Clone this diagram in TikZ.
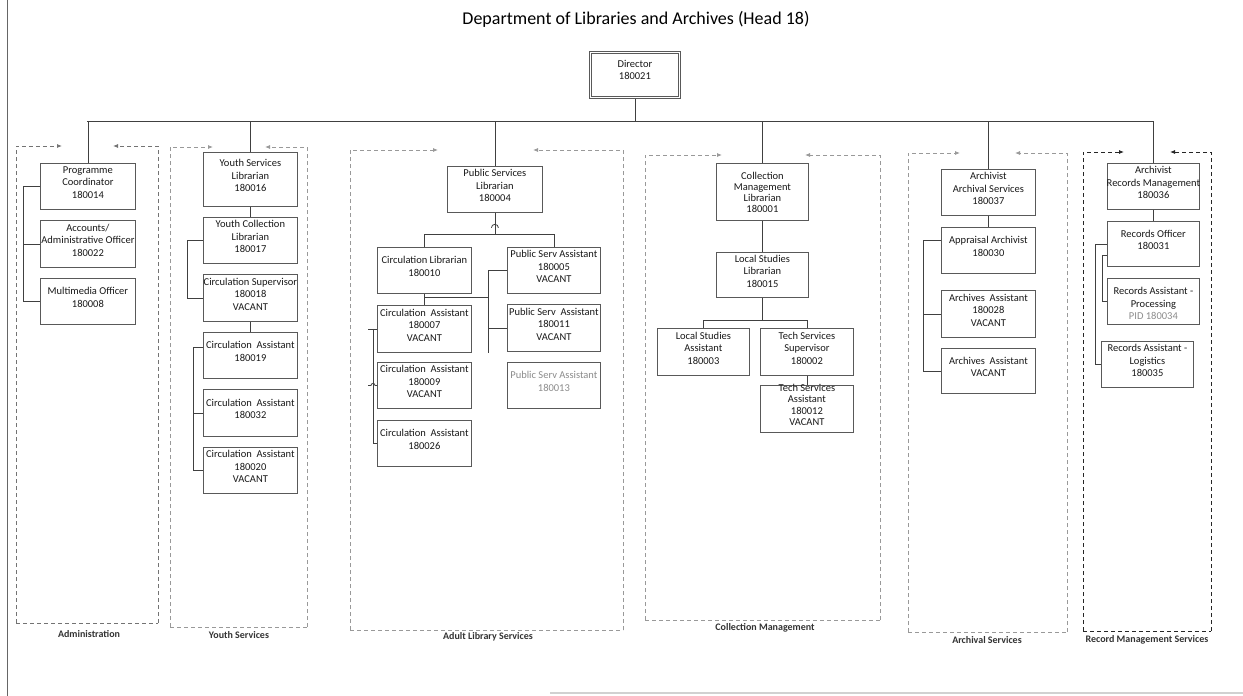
\documentclass[tikz,border=0pt]{standalone}
\usepackage{fontspec}
\setmainfont{Carlito}
\usetikzlibrary{arrows.meta}
\tikzset{
  box/.style={draw=black!65, line width=0.8pt, fill=white, anchor=north west, inner sep=0pt},
  txt/.style={font=\fontsize{10.5}{12.5}\selectfont, align=center, text=black!90, inner sep=0pt, yshift=4pt},
  conn/.style={draw=black!75, line width=0.8pt},
  region/.style={draw=black!40, line width=0.8pt, dash pattern=on 4pt off 3pt},
  regarrow/.style={region, -{Latex[length=5pt,width=4pt]}},
  lab/.style={font=\fontsize{10}{11}\selectfont\bfseries, text=black!80, inner sep=0pt},
}
\newcommand{\obox}[7][]{%
  \node[box,minimum width={#5pt-#3pt},minimum height={#6pt-#4pt}] (#2) at (#3,#4) {};
  \node[txt,#1] (#2t) at (#2.center) {#7};}
\newcommand{\regionbox}[7][]{%
  \draw[region,#1] (#2,#5) -- (#4,#5);
  \draw[regarrow,#1] (#2,#5) -- (#2,#3) -- (#6,#3);
  \draw[regarrow,#1] (#4,#5) -- (#4,#3) -- (#7,#3);}
\begin{document}
\begin{tikzpicture}[x=1pt,y=-1pt]
\useasboundingbox (0,0) rectangle (1243,696);
% frame remnants
\draw[black!60, line width=1pt] (7,0) -- (7,696);
\draw[black!18, line width=1.2pt] (550,693) -- (1243,693);

% title
\node[font=\fontsize{18}{21}\selectfont, text=black, inner sep=0pt] (title) at (636,19) {Department of Libraries and Archives (Head 18)};

% regions
\regionbox[draw=black!55]{16}{146}{158}{623}{62}{113}
\regionbox{170}{147}{307}{627}{213}{265}
\regionbox{350}{150}{623}{630}{438}{533}
\regionbox{645}{155}{880}{620}{722}{805}
\regionbox{908}{153}{1067}{632}{960}{1015}
\regionbox[draw=black!85]{1083}{152}{1211}{631}{1124}{1170}

\node[lab] (l1) at (89,634) {Administration};
\node[lab] (l2) at (239,635) {Youth Services};
\node[lab] (l3) at (488,637) {Adult Library Services};
\node[lab] (l4) at (765,628) {Collection Management};
\node[lab] (l5) at (987,640) {Archival Services};
\node[lab] (l6) at (1147,640) {Record Management Services};

% director (double frame)
\node[box, minimum width=91pt, minimum height=47pt] (dir) at (589,51) {};
\draw[draw=black!65, line width=0.8pt] ([xshift=2.6pt,yshift=-2.6pt]dir.north west) rectangle ([xshift=-2.6pt,yshift=2.6pt]dir.south east);
\node[txt] (dirt) at ([yshift=1pt]dir.center) {Director\\180021};

% administration
\obox{pc}{40}{163}{135}{209}{Programme\\Coordinator\\180014}
\obox{ao}{40}{220}{135}{267}{Accounts/\\Administrative Officer\\180022}
\obox{mm}{40}{278}{135}{324}{Multimedia Officer\\180008}

% youth
\obox{ysl}{203}{152}{297}{206}{Youth Services\\Librarian\\180016}
\obox{ycl}{203}{217}{297}{263}{Youth Collection\\Librarian\\180017}
\obox{csup}{203}{274}{297}{321}{Circulation Supervisor\\180018\\VACANT}
\obox{ca19}{203}{332}{297}{378}{Circulation\ \ Assistant\\180019}
\obox{ca32}{203}{389}{297}{436}{Circulation\ \ Assistant\\180032}
\obox{ca20}{203}{447}{297}{493}{Circulation\ \ Assistant\\180020\\VACANT}

% adult
\obox{psl}{447}{166}{542}{212}{Public Services\\Librarian\\180004}
\obox{cl}{377}{247}{471}{293}{Circulation Librarian\\180010}
\obox{psa5}{507}{247}{600}{293}{Public Serv Assistant\\180005\\VACANT}
\obox{ca7}{377}{305}{471}{352}{Circulation\ \ Assistant\\180007\\VACANT}
\obox{psa11}{507}{304}{600}{351}{Public Serv\ \ Assistant\\180011\\VACANT}
\obox{ca9}{377}{362}{471}{408}{Circulation\ \ Assistant\\180009\\VACANT}
\obox[text=black!45]{psa13}{507}{362}{600}{408}{Public Serv Assistant\\180013}
\obox{ca26}{377}{420}{471}{466}{Circulation\ \ Assistant\\180026}

% collection
\obox[yshift=-4pt,font=\fontsize{10.5}{11}\selectfont]{cml}{716}{163}{808}{220}{Collection\\Management\\Librarian\\180001}
\obox{lsl}{716}{252}{808}{297}{Local Studies\\Librarian\\180015}
\obox{lsa}{657}{328}{749}{375}{Local Studies\\Assistant\\180003}
\obox{tss}{760}{328}{853}{375}{Tech Services\\Supervisor\\180002}
\obox[yshift=0pt,font=\fontsize{10.5}{11.5}\selectfont]{tsa}{760}{385}{853}{432}{Tech Services\\Assistant\\180012\\VACANT}

% archival
\obox{aas}{941}{169}{1035}{215}{Archivist\\Archival Services\\180037}
\obox{apa}{941}{227}{1035}{273}{Appraisal Archivist\\180030}
\obox{aa1}{941}{290}{1035}{337}{Archives\ \ Assistant\\180028\\VACANT}
\obox{aa2}{941}{348}{1035}{393}{Archives\ \ Assistant\\VACANT}

% records
\obox{arm}{1107}{163}{1199}{209}{Archivist\\Records Management\\180036}
\obox{ro}{1107}{221}{1199}{266}{Records Officer\\180031}
\obox[yshift=-6pt]{rp}{1107}{278}{1199}{324}{Records Assistant -\\Processing\\\textcolor{black!45}{PID 180034}}
\obox{rl}{1101}{341}{1193}{387}{Records Assistant -\\Logistics\\180035}

% main bus
\coordinate (busL) at (87,121);
\coordinate (busR) at (1153,121);
\draw[conn] (busL) -- (busR);
\draw[conn] (dir.south) -- (dir.south |- busL);
\foreach \n in {pc,ysl,psl,cml,aas,arm} \draw[conn] (\n.north) -- (\n.north |- busL);

% administration connectors
\draw[conn] (pc.west) -- ++(-17,0) |- (mm.west);
\draw[conn] (ao.west) -- ++(-17,0);

% youth connectors
\draw[conn] (ysl.south) -- (ycl.north);
\draw[conn] (ycl.west) -- ++(-16,0) |- (csup.west);
\draw[conn] (csup.south) -- (ca19.north);
\draw[conn] ([yshift=8pt]ca19.west) -- ++(-10,0) |- (ca20.west);
\draw[conn] (ca32.west) -- ++(-10,0);

% adult connectors
\draw[conn] (psl.south) -- (psl.south |- 0,234);
\draw[conn] ([xshift=-3.5pt,yshift=-15pt]psl.south) arc[start angle=180,end angle=0,radius=3.5pt];
\draw[conn] (cl.north) -- ++(0,-13) -| (psa5.north);
\draw[conn] (cl.south) -- (ca7.north);
\draw[conn] ([yshift=-4pt]cl.south) -- ++(64,0);
\draw[conn] (psa5.west) -- ++(-19,0) -- ++(0,83);
\draw[conn] (psa11.west) -- ++(-19,0);
\draw[conn] (ca7.west) -- ++(-9,0);
\draw[conn] ([xshift=-4pt]ca7.west) |- (ca26.west);
\draw[conn] (ca9.west) -- ++(-2,0) arc[start angle=0,end angle=180,radius=2pt] -- ++(-3,0);

% collection connectors
\draw[conn] (cml.south) -- (lsl.north);
\draw[conn] (lsl.south) -- ++(0,23);
\draw[conn] (lsa.north) -- ++(0,-8) -| (tss.north);
\draw[conn] (tss.south) -- (tsa.north);

% archival connectors
\draw[conn] (aas.south) -- (apa.north);
\draw[conn] ([yshift=10pt]apa.west) -- ++(-18,0) |- (aa2.west);
\draw[conn] (aa1.west) -- ++(-18,0);

% records connectors
\draw[conn] (arm.south) -- (ro.north);
\draw[conn] (ro.west) -- ++(-12,0) |- (rl.west);
\draw[conn] ([yshift=-11pt]ro.west) -- ++(-5,0) |- (rp.west);
\end{tikzpicture}
\end{document}
